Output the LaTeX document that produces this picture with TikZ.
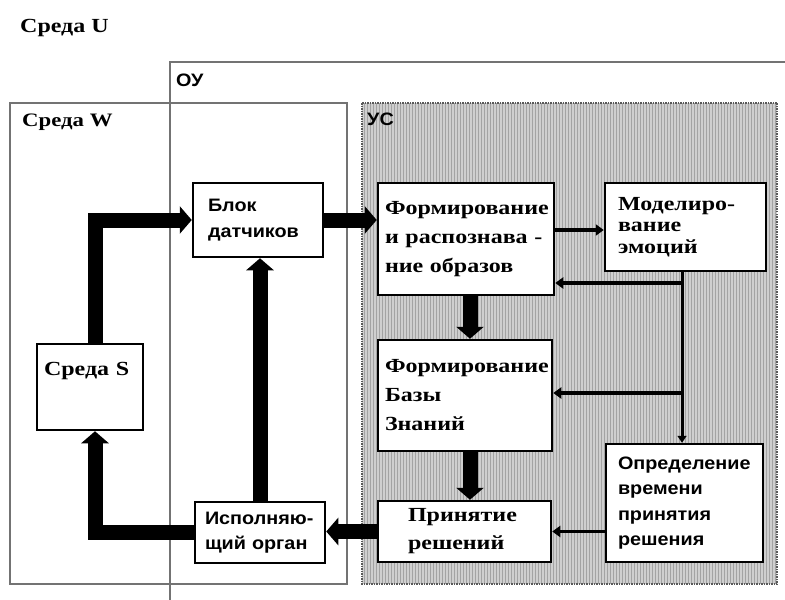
\documentclass[tikz,border=0pt]{standalone}
\usepackage{fontspec}
\newfontfamily\srf{Liberation Serif}[FakeStretch=1.2]
\newfontfamily\snf{Liberation Sans}[FakeStretch=1.1]
\usetikzlibrary{arrows.meta}

\tikzset{
    box/.style={draw=black, line width=2.5pt, fill=white, align=left, inner ysep=2pt},
    ser/.style={font=\srf\bfseries\fontsize{20}{29}\selectfont},
    san/.style={font=\snf\bfseries\fontsize{18}{25.5}\selectfont},
    lbl/.style={anchor=west, inner sep=0pt},
    frame/.style={draw=black!55, line width=1.5pt},
    bigarrow/.style={black, line width=15pt, -{Triangle[length=12pt,width=27pt]}},
    smallarrow/.style={black, line width=3.5pt, -{Triangle[length=8pt,width=11pt]}}
}

\begin{document}
\begin{tikzpicture}[x=1pt, y=-1pt]
        \useasboundingbox (0,0) rectangle (785,600);

        \draw [frame] (785,62) -| (170,600);
        \draw [frame] (10,103) rectangle (347,584);

        \fill [gray!38] (362,103) rectangle (777,584);
        \foreach \x in {364,367,...,776} {
            \draw [gray!72, line width=1pt] (\x,103) -- (\x,584);
        }
        \draw [black!65, line width=1.5pt, densely dotted] (362,103) rectangle (777,584);

        \node [ser, lbl] (lblU) at (20,28) {Среда U};
        \node [san, lbl] (lblOU) at (176,80) {ОУ};
        \node [ser, lbl, font=\srf\bfseries\fontsize{19}{25}\selectfont] (lblW) at (22,122) {Среда W};
        \node [san, lbl] (lblUS) at (367,119) {УС};

        \node [box, ser, minimum width=106pt, inner xsep=7pt, text width=92pt,
            inner ysep=3pt, text height=28pt, text depth=52pt] (sreds) at (90,387) {Среда S};
        \node [box, san, minimum width=130pt, minimum height=74pt, inner xsep=15pt, text width=100pt] (blok) at (258,220) {Блок\\датчиков};
        \node [box, san, minimum width=130pt, minimum height=61pt, inner xsep=10pt, text width=110pt] (organ) at (260,532.5) {Исполняю-\\щий орган};
        \node [box, ser, minimum width=176pt, minimum height=112pt, inner xsep=7pt, text width=162pt] (raspozn) at (466,239) {Формирование\\и распознава -\\ние образов};
        \node [box, ser, font=\srf\bfseries\fontsize{20}{21.5}\selectfont, minimum width=161pt, minimum height=88pt,
            inner xsep=13pt, text width=135pt] (emoc) at (685.5,227) {Моделиро-\\вание\\эмоций};
        \node [box, ser, minimum width=174pt, minimum height=111pt, inner xsep=7pt, text width=160pt] (baza) at (465,395.5) {Формирование\\Базы\\Знаний};
        \node [box, san, minimum width=157pt, minimum height=118pt, inner xsep=12pt, text width=133pt] (vremya) at (684.5,503) {Определение\\времени\\принятия\\решения};
        \node [box, ser, font=\srf\bfseries\fontsize{20}{28}\selectfont, minimum width=173pt, minimum height=61pt,
            inner xsep=30pt, text width=113pt] (reshen) at (464.5,531.5) {Принятие\\решений};

        \draw [bigarrow] ([xshift=5pt]sreds.north) |- (blok.west);
        \draw [bigarrow] (blok.east) -- (blok.east -| raspozn.west);
        \draw [bigarrow] (organ.north) -- (organ.north |- blok.south);
        \draw [bigarrow] ([xshift=4pt]raspozn.south) -- ([xshift=4pt]raspozn.south |- baza.north);
        \draw [bigarrow] ([xshift=5pt]baza.south) -- ([xshift=5pt]baza.south |- reshen.north);
        \draw [bigarrow] (reshen.west) -- (reshen.west -| organ.east);
        \draw [bigarrow] (organ.west) -| ([xshift=5pt]sreds.south);

        \coordinate (bus1) at (682,283);
        \coordinate (bus2) at (682,393);
        \draw [smallarrow] ([yshift=9pt]raspozn.east) -- ([yshift=9pt]raspozn.east -| emoc.west);
        \draw [black, line width=3pt, -{Triangle[length=7pt,width=9pt]}] (emoc.south -| bus1) -- (vremya.north -| bus1);
        \draw [smallarrow] (bus1) -- (bus1 -| raspozn.east);
        \draw [smallarrow] (bus2) -- (bus2 -| baza.east);
        \draw [smallarrow] (vremya.west |- reshen.east) -- (reshen.east);
    \end{tikzpicture}
\end{document}
